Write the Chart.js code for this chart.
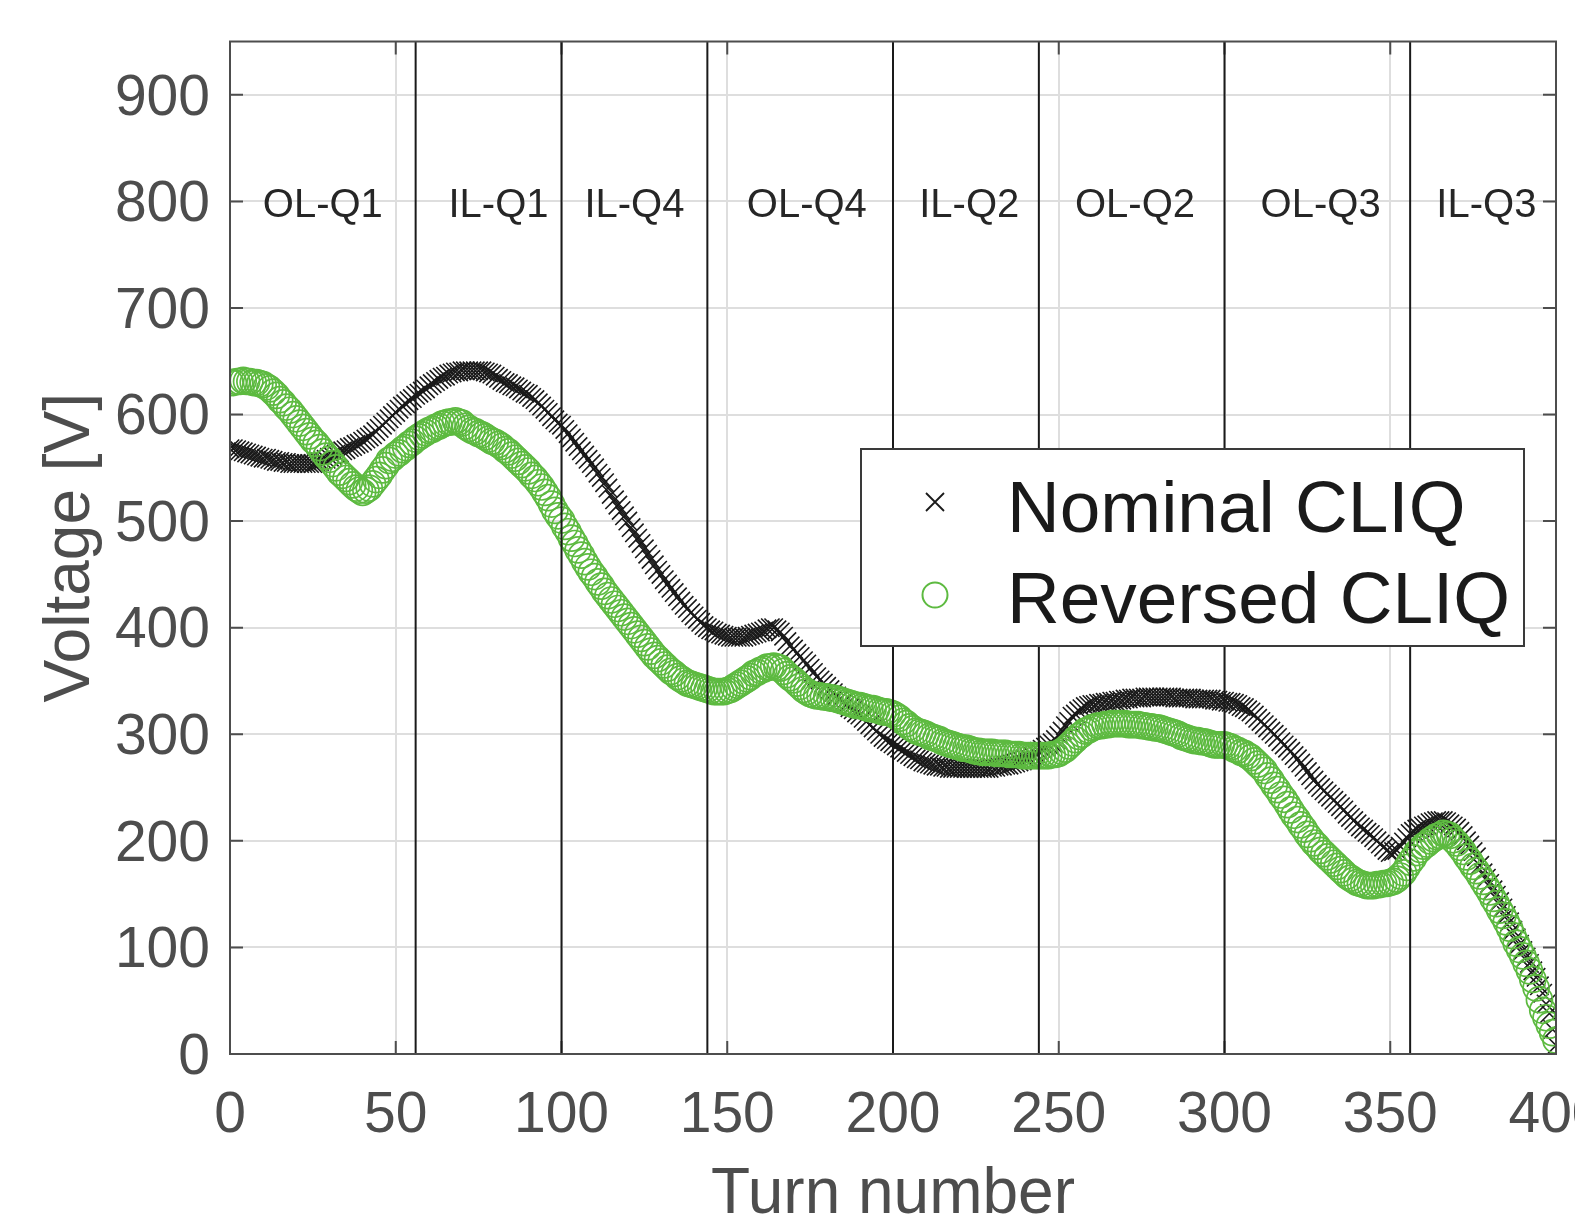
<!DOCTYPE html>
<html>
<head>
<meta charset="utf-8">
<script src="https://cdn.jsdelivr.net/npm/chart.js@4.4.1/dist/chart.umd.min.js"></script>
<style>
html, body { margin: 0; padding: 0; background: #fff; overflow: hidden; }
canvas { display: block; }
</style>
</head>
<body>
<canvas id="chart" width="1636" height="1215"></canvas>
<script>
// Voltage per turn (turn 0..400)
var nominalV = [
    568, 568, 567, 566, 565, 564, 563, 562, 561, 560,
    559, 559, 558, 557, 556, 556, 555, 555, 554, 554,
    554, 554, 554, 554, 554, 554, 555, 556, 557, 558,
    560, 561, 563, 564, 566, 567, 569, 570, 572, 573,
    575, 577, 579, 581, 584, 587, 590, 593, 596, 599,
    602, 605, 608, 610, 613, 615, 618, 620, 622, 624,
    627, 629, 631, 633, 635, 636, 638, 639, 640, 640,
    641, 641, 641, 641, 641, 641, 641, 640, 639, 638,
    636, 634, 632, 630, 629, 627, 626, 624, 622, 620,
    619, 616, 614, 611, 608, 605, 602, 598, 595, 592,
    590, 586, 582, 578, 574, 570, 566, 562, 558, 554,
    550, 545, 541, 536, 531, 525, 520, 515, 510, 505,
    500, 494, 489, 484, 479, 474, 469, 464, 459, 454,
    450, 445, 441, 437, 433, 429, 425, 421, 418, 414,
    411, 408, 405, 402, 400, 398, 397, 395, 394, 393,
    392, 391, 391, 391, 391, 391, 392, 393, 394, 395,
    396, 397, 399, 400, 400, 398, 396, 392, 387, 383,
    380, 376, 373, 369, 366, 362, 358, 354, 351, 348,
    345, 342, 339, 336, 333, 330, 328, 325, 323, 320,
    318, 315, 312, 309, 306, 303, 300, 297, 295, 293,
    291, 289, 287, 285, 283, 281, 279, 277, 276, 274,
    273, 272, 271, 270, 270, 269, 269, 268, 268, 268,
    268, 268, 268, 268, 268, 268, 268, 268, 268, 268,
    269, 269, 270, 270, 271, 271, 272, 273, 274, 275,
    277, 278, 280, 282, 284, 286, 288, 290, 292, 295,
    299, 303, 308, 312, 317, 319, 322, 324, 326, 327,
    328, 328, 329, 329, 330, 330, 331, 331, 332, 332,
    333, 333, 334, 334, 334, 334, 335, 335, 335, 335,
    335, 335, 335, 335, 335, 334, 334, 334, 334, 334,
    334, 333, 333, 333, 333, 333, 333, 332, 332, 331,
    331, 330, 330, 329, 328, 326, 325, 323, 321, 318,
    315, 312, 309, 306, 303, 300, 297, 293, 290, 287,
    284, 280, 277, 273, 269, 265, 261, 257, 253, 250,
    247, 244, 241, 238, 235, 232, 229, 225, 222, 219,
    216, 213, 211, 208, 206, 203, 200, 197, 194, 191,
    189, 190, 191, 195, 199, 203, 207, 209, 211, 212,
    214, 215, 217, 218, 219, 219, 219, 218, 216, 214,
    212, 209, 205, 200, 196, 190, 185, 177, 170, 165,
    160, 154, 149, 143, 137, 130, 124, 116, 109, 103,
    97, 91, 85, 78, 72, 64, 57, 47, 38, 23,
    8
]
var reversedV = [
    630, 630, 631, 631, 632, 631, 631, 630, 630, 629,
    628, 626, 624, 621, 618, 614, 611, 607, 604, 600,
    596, 592, 588, 584, 580, 576, 573, 569, 565, 561,
    558, 554, 550, 546, 543, 540, 537, 534, 531, 529,
    527, 529, 531, 535, 539, 543, 548, 552, 557, 559,
    562, 564, 567, 569, 572, 574, 577, 579, 581, 583,
    585, 586, 588, 589, 591, 592, 593, 593, 594, 593,
    592, 589, 587, 585, 584, 582, 581, 579, 577, 575,
    574, 572, 570, 567, 565, 562, 559, 556, 553, 550,
    547, 543, 540, 536, 532, 527, 522, 516, 510, 505,
    501, 495, 490, 484, 479, 473, 468, 462, 457, 452,
    448, 443, 439, 434, 430, 426, 422, 418, 414, 410,
    406, 402, 398, 394, 390, 386, 382, 378, 374, 371,
    368, 365, 362, 359, 357, 354, 352, 350, 348, 347,
    346, 345, 344, 343, 342, 341, 340, 340, 340, 340,
    341, 342, 344, 346, 348, 350, 352, 354, 357, 358,
    360, 361, 363, 363, 364, 363, 362, 359, 356, 353,
    351, 348, 345, 342, 340, 338, 337, 336, 336, 335,
    335, 334, 334, 333, 332, 331, 330, 329, 328, 327,
    327, 326, 325, 324, 324, 323, 322, 321, 321, 320,
    319, 317, 315, 312, 310, 307, 305, 303, 302, 301,
    300, 298, 297, 296, 295, 293, 292, 291, 290, 289,
    288, 287, 287, 286, 285, 284, 284, 283, 283, 283,
    283, 282, 282, 282, 282, 281, 281, 281, 281, 280,
    280, 280, 280, 280, 280, 280, 280, 280, 281, 281,
    282, 284, 286, 289, 292, 295, 298, 300, 303, 304,
    306, 307, 308, 308, 309, 309, 310, 310, 310, 310,
    310, 309, 309, 309, 309, 308, 308, 307, 307, 306,
    306, 305, 304, 303, 302, 301, 300, 298, 297, 296,
    295, 294, 294, 293, 293, 292, 291, 290, 290, 290,
    290, 289, 288, 286, 285, 283, 282, 280, 278, 275,
    272, 269, 266, 261, 257, 252, 248, 243, 239, 234,
    229, 224, 220, 215, 211, 206, 202, 198, 195, 191,
    188, 185, 182, 179, 176, 173, 170, 167, 165, 163,
    161, 160, 159, 158, 158, 158, 159, 159, 160, 160,
    161, 162, 164, 167, 170, 175, 180, 184, 189, 192,
    195, 197, 200, 202, 204, 205, 207, 206, 205, 201,
    198, 194, 190, 185, 181, 176, 172, 167, 162, 157,
    152, 146, 141, 135, 130, 124, 118, 111, 104, 98,
    92, 85, 78, 70, 62, 51, 41, 34, 27, 20,
    13
]
var turns = nominalV.map((v, i) => i)

// Layer boundaries (turn number) and layer names
var boundaries = [56, 100, 144, 200, 244, 300, 356]
var regionNames = ['OL-Q1', 'IL-Q1', 'IL-Q4', 'OL-Q4', 'IL-Q2', 'OL-Q2', 'OL-Q3', 'IL-Q3']
var regionCenters = [28, 81, 122, 174, 223, 273, 329, 379]
var regionLabelV = 796

var xMin = 0, xMax = 400, xStep = 50
var yMin = 0, yMax = 950, yStep = 100

var FONT = '"Liberation Sans", Arial, sans-serif'
var GREEN = '#5dba40'
var BLACK = '#1a1a1a'
var AXIS = '#4d4d4d'

/**
 * Box around the axes with inward ticks on all four sides
 */
var boxPlugin = {
    id: 'box',
    beforeDatasetsDraw(chart) {
        var ctx = chart.ctx, a = chart.chartArea
        var xs = chart.scales.x, ys = chart.scales.y
        var len = 13
        ctx.save()
        ctx.strokeStyle = AXIS
        ctx.lineWidth = 2
        ctx.beginPath()
        xs.ticks.forEach((t) => {
            var px = xs.getPixelForValue(t.value)
            ctx.moveTo(px, a.bottom); ctx.lineTo(px, a.bottom - len)
            ctx.moveTo(px, a.top); ctx.lineTo(px, a.top + len)
        })
        ys.ticks.forEach((t) => {
            var py = ys.getPixelForValue(t.value)
            ctx.moveTo(a.left, py); ctx.lineTo(a.left + len, py)
            ctx.moveTo(a.right, py); ctx.lineTo(a.right - len, py)
        })
        ctx.stroke()
        ctx.restore()
    },
    afterDraw(chart) {
        var ctx = chart.ctx, a = chart.chartArea
        ctx.save()
        ctx.strokeStyle = AXIS
        ctx.lineWidth = 2
        ctx.strokeRect(a.left, a.top, a.right - a.left, a.bottom - a.top)
        ctx.restore()
    }
}

/**
 * Layer names written at the 800 V level
 */
var regionPlugin = {
    id: 'regions',
    afterDatasetsDraw(chart) {
        var ctx = chart.ctx
        var xs = chart.scales.x, ys = chart.scales.y
        ctx.save()
        ctx.font = '40px ' + FONT
        ctx.fillStyle = '#262626'
        ctx.textAlign = 'center'
        ctx.textBaseline = 'middle'
        regionNames.forEach((name, i) => {
            ctx.fillText(name, xs.getPixelForValue(regionCenters[i]), ys.getPixelForValue(regionLabelV))
        })
        ctx.restore()
    }
}

/**
 * Legend box inside the plot
 */
var legendPlugin = {
    id: 'boxLegend',
    afterDatasetsDraw(chart) {
        var ctx = chart.ctx
        ctx.save()
        ctx.fillStyle = '#fff'
        ctx.fillRect(861, 449, 663, 197)
        ctx.strokeStyle = '#3a3a3a'
        ctx.lineWidth = 2
        ctx.strokeRect(861, 449, 663, 197)

        // cross marker
        ctx.strokeStyle = BLACK
        ctx.lineWidth = 1.8
        ctx.beginPath()
        ctx.moveTo(926, 493); ctx.lineTo(944, 511)
        ctx.moveTo(944, 493); ctx.lineTo(926, 511)
        ctx.stroke()
        // circle marker
        ctx.strokeStyle = GREEN
        ctx.lineWidth = 2
        ctx.beginPath()
        ctx.arc(935, 595, 12.5, 0, Math.PI * 2)
        ctx.stroke()

        ctx.font = '73px ' + FONT
        ctx.fillStyle = BLACK
        ctx.textAlign = 'left'
        ctx.textBaseline = 'alphabetic'
        ctx.fillText('Nominal CLIQ', 1007, 532)
        ctx.fillText('Reversed CLIQ', 1007, 623)
        ctx.restore()
    }
}

function renderChart() {
    var boundarySets = boundaries.map((b) => ({
        label: 'boundary ' + b,
        data: [{ x: b, y: yMin }, { x: b, y: yMax }],
        showLine: true,
        borderColor: BLACK,
        borderWidth: 2,
        pointRadius: 0,
        order: 0
    }))

    var data = {
        datasets: [{
            label: 'Nominal CLIQ',
            data: turns.map((t, i) => ({ x: t, y: nominalV[i] })),
            pointStyle: 'crossRot',
            radius: 13,
            borderColor: BLACK,
            borderWidth: 1.6,
            backgroundColor: BLACK,
            order: 2
        }, {
            label: 'Reversed CLIQ',
            data: turns.map((t, i) => ({ x: t, y: reversedV[i] })),
            pointStyle: 'circle',
            radius: 13,
            borderColor: GREEN,
            borderWidth: 1.7,
            backgroundColor: 'rgba(0,0,0,0)',
            order: 1
        }].concat(boundarySets)
    }

    var config = {
        type: 'scatter',
        data: data,
        options: {
            responsive: false,
            animation: false,
            devicePixelRatio: 1,
            events: [],
            layout: {
                padding: { left: 0, right: 80, top: 41.5, bottom: 0 }
            },
            plugins: {
                legend: { display: false },
                tooltip: { enabled: false }
            },
            scales: {
                x: {
                    type: 'linear',
                    min: xMin,
                    max: xMax,
                    afterFit: (scale) => { scale.height = 1215 - 1054 },
                    ticks: {
                        stepSize: xStep,
                        autoSkip: false,
                        maxRotation: 0,
                        padding: 28,
                        color: AXIS,
                        font: { family: FONT, size: 57 }
                    },
                    grid: { color: '#dedede', lineWidth: 2, drawTicks: false },
                    border: { display: false },
                    title: {
                        display: true,
                        text: 'Turn number',
                        color: AXIS,
                        font: { family: FONT, size: 64, lineHeight: 0.625 },
                        padding: 0
                    }
                },
                y: {
                    type: 'linear',
                    min: yMin,
                    max: yMax,
                    afterFit: (scale) => { scale.width = 230 },
                    ticks: {
                        stepSize: yStep,
                        includeBounds: false,
                        autoSkip: false,
                        padding: 20,
                        labelOffset: 4,
                        color: AXIS,
                        font: { family: FONT, size: 57, lineHeight: 0.755 }
                    },
                    grid: { color: '#dedede', lineWidth: 2, drawTicks: false },
                    border: { display: false },
                    title: {
                        display: true,
                        text: 'Voltage [V]',
                        color: AXIS,
                        font: { family: FONT, size: 64 },
                        padding: { top: 33, bottom: 0 }
                    }
                }
            }
        },
        plugins: [boxPlugin, regionPlugin, legendPlugin]
    }
    return new Chart(document.getElementById('chart'), config)
}

var chart = renderChart()
</script>
</body>
</html>
